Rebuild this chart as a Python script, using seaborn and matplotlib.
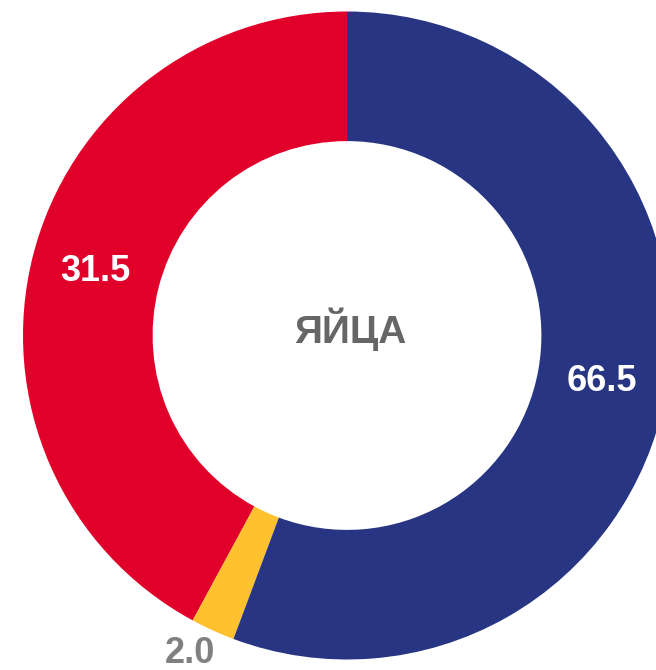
import numpy as np
import matplotlib
matplotlib.use("Agg")
import matplotlib.pyplot as plt
import seaborn as sns

# Data
categories = ["red", "yellow", "blue"]
# arc shares as drawn in the reference (angles measured on the picture)
shares = [42.1, 2.2, 55.7]
# value labels printed on the chart
value_labels = ["31.5", "2.0", "66.5"]
center_title = "ЯЙЦА"

colors = ["#E1002A", "#FFC12E", "#273582"]

sns.set_theme(style="white")
plt.rcParams["font.family"] = ["Liberation Sans", "DejaVu Sans"]

fig = plt.figure(figsize=(6.56, 6.70), dpi=100)
ax = fig.add_axes([0, 0, 1, 1])

wedges, _ = ax.pie(shares, colors=colors, startangle=90, counterclock=True,
                   radius=1.0, wedgeprops=dict(width=0.4, linewidth=0))

# value labels at the middle of each ring segment
for w, lab in zip(wedges, value_labels):
    mid = np.deg2rad((w.theta1 + w.theta2) / 2)
    if lab == "2.0":
        r, col = 1.10, "#808080"
        x, y = r * np.cos(mid) - 0.03, r * np.sin(mid) + 0.02
    else:
        r, col = 0.80, "white"
        x, y = r * np.cos(mid), r * np.sin(mid)
    ax.text(x, y, lab, ha="center", va="center", color=col,
            fontsize=26, fontweight="bold")

ax.text(0.01, 0.02, center_title, ha="center", va="center",
        color="#666666", fontsize=28, fontweight="bold")

# center of the ring at pixel (347, 335), radius 324 px
ax.set_xlim(-347 / 324, (656 - 347) / 324)
ax.set_ylim(-(670 - 335.5) / 324, 335.5 / 324)
ax.set_aspect("equal")
ax.axis("off")

fig.savefig("out.png", dpi=100)
